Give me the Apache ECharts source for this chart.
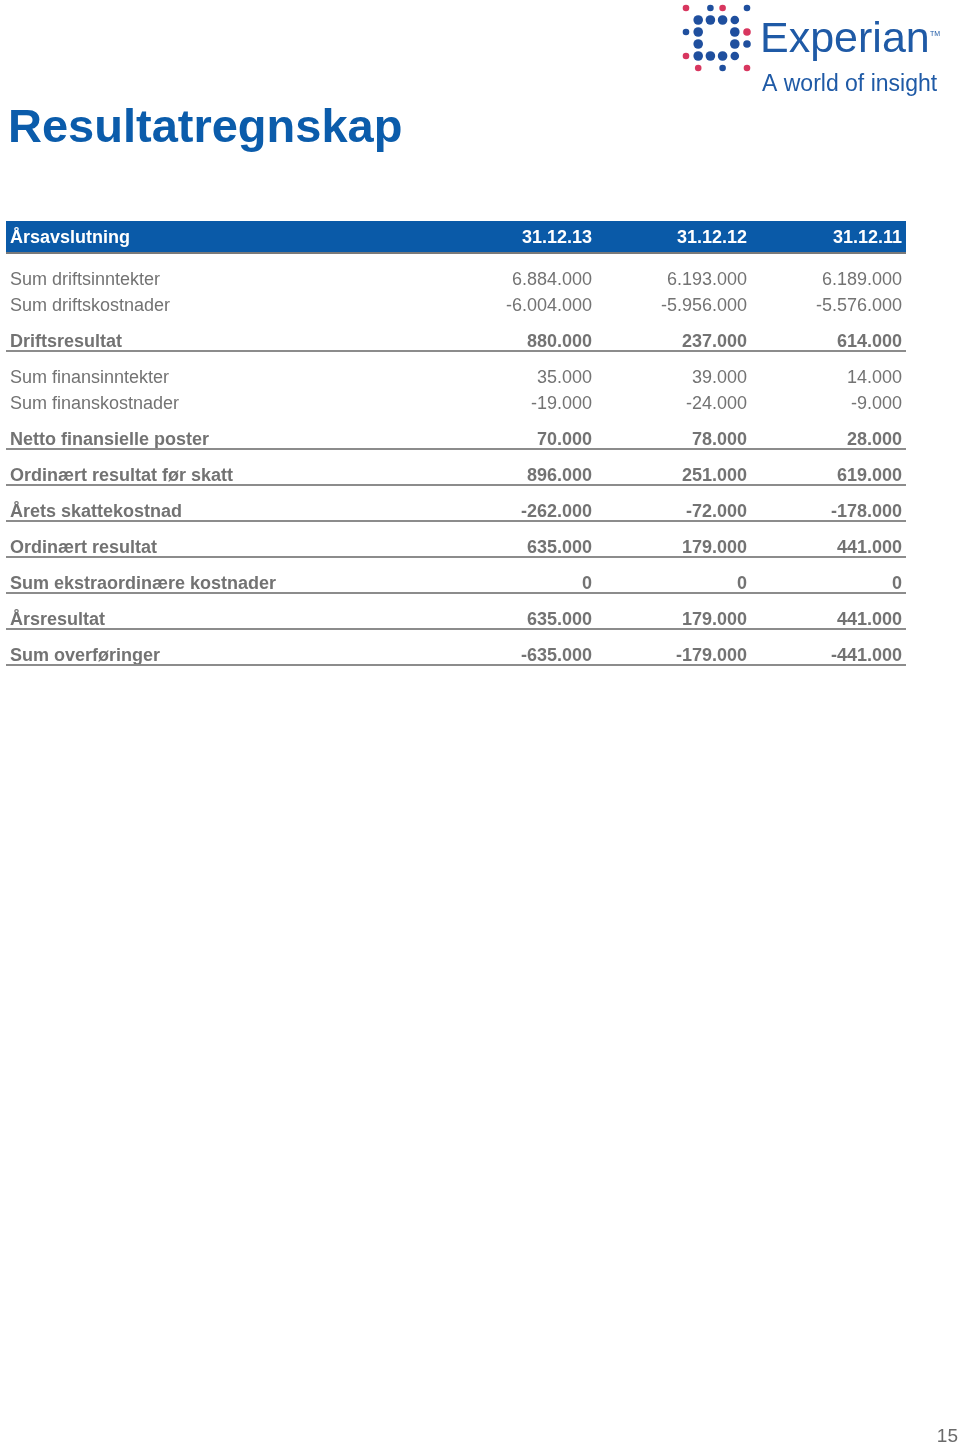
<!DOCTYPE html>
<html>
<head>
<meta charset="utf-8">
<script src="https://cdn.jsdelivr.net/npm/echarts@6/dist/echarts.min.js"></script>
<style>
html,body{margin:0;padding:0;background:#fff;}
#main{width:960px;height:1446px;}
</style>
</head>
<body>
<div id="main"></div>
<script>
// ---- data ----
const pageTitle = 'Resultatregnskap';
const headerLabel = 'Årsavslutning';
const columns = ['31.12.13', '31.12.12', '31.12.11'];
const rowLabels = [
  'Sum driftsinntekter',
  'Sum driftskostnader',
  'Driftsresultat',
  'Sum finansinntekter',
  'Sum finanskostnader',
  'Netto finansielle poster',
  'Ordinært resultat før skatt',
  'Årets skattekostnad',
  'Ordinært resultat',
  'Sum ekstraordinære kostnader',
  'Årsresultat',
  'Sum overføringer'
];
const rowIsTotal = [false, false, true, false, false, true, true, true, true, true, true, true];
const values2013 = [6884000, -6004000, 880000, 35000, -19000, 70000, 896000, -262000, 635000, 0, 635000, -635000];
const values2012 = [6193000, -5956000, 237000, 39000, -24000, 78000, 251000, -72000, 179000, 0, 179000, -179000];
const values2011 = [6189000, -5576000, 614000, 14000, -9000, 28000, 619000, -178000, 441000, 0, 441000, -441000];
const pageNumber = '15';

// ---- layout ----
const valueCols = [values2013, values2012, values2011];
const FONT = '"Liberation Sans", Arial, sans-serif';
const GRAY = '#737373';
const LINE = '#8c8c8c';
const BLUE_BAR = '#0a5aa8';
const tableW = 900, labelColW = 434, colW = 155, pad = 3;
const TEXT_DY = 2;

function fmt(v) {
  const s = String(Math.abs(v)).replace(/\B(?=(\d{3})+(?!\d))/g, '.');
  return (v < 0 ? '-' : '') + s;
}

// vertical slot of each row (in table units = px from table top)
const headerH = 31;
const rowY = [];
rowLabels.forEach((_, i) => {
  if (i === 0) rowY.push(57);
  else rowY.push(rowY[i - 1] + ((!rowIsTotal[i - 1] && !rowIsTotal[i]) ? 26 : 36));
});
const colRight = columns.map((_, j) => labelColW + (j + 1) * colW - pad);

// logo dots: [col,row,colour,size]
const R = '#d8365f', B = '#1f4f9e';
const logoDots = [
  [0,0,R,3.3],[2,0,B,3.3],[3,0,R,3.3],[5,0,B,3.3],
  [1,1,B,4.8],[2,1,B,4.8],[3,1,B,4.8],[4,1,B,4.3],
  [0,2,B,3.3],[1,2,B,4.8],[4,2,B,4.8],[5,2,R,3.8],
  [1,3,B,4.8],[4,3,B,4.8],[5,3,B,3.8],
  [0,4,R,3.3],[1,4,B,4.8],[2,4,B,4.8],[3,4,B,4.8],[4,4,B,4.3],
  [1,5,R,3.3],[3,5,B,3.3],[5,5,R,3.3]
];

const chart = echarts.init(document.getElementById('main'), null, {renderer: 'canvas'});

const graphic = [
  {type: 'text', left: 8, top: 106, style: {text: pageTitle, font: 'bold 47px ' + FONT, fill: '#0b5cab'}},
  {type: 'text', x: 760, y: 40, style: {text: 'Experian', font: '43px ' + FONT, fill: '#1f5aa6', verticalAlign: 'middle'}},
  {type: 'text', x: 930, y: 34, style: {text: 'TM', font: '7px ' + FONT, fill: '#1f5aa6', verticalAlign: 'middle'}},
  {type: 'text', x: 762, y: 85, style: {text: 'A world of insight', font: '23px ' + FONT, fill: '#1f5aa6', verticalAlign: 'middle'}},
  {type: 'text', x: 958, y: 1437, style: {text: pageNumber, font: '19px ' + FONT, fill: '#6a6a6a', align: 'right', verticalAlign: 'middle'}}
].concat(logoDots.map(d => ({
  type: 'circle', shape: {cx: 686 + d[0] * 12.2, cy: 8 + d[1] * 12, r: d[3]}, style: {fill: d[2]}
})));

chart.setOption({
  backgroundColor: '#ffffff',
  animation: false,
  graphic: graphic,
  grid: {left: 6, top: 221, width: tableW, height: 460},
  xAxis: {type: 'value', min: 0, max: tableW, show: false},
  yAxis: {type: 'value', min: 0, max: 460, inverse: true, show: false},
  series: [
    {
      type: 'custom',
      data: [[0]],
      renderItem: function (params, api) {
        const tl = api.coord([0, 0]);
        const br = api.coord([tableW, headerH]);
        const cy = api.coord([0, headerH / 2])[1] + TEXT_DY;
        const children = [
          {type: 'rect', shape: {x: tl[0], y: tl[1], width: br[0] - tl[0], height: br[1] - tl[1]}, style: {fill: BLUE_BAR}},
          {type: 'line', shape: {x1: tl[0], y1: br[1] + 1, x2: br[0], y2: br[1] + 1}, style: {stroke: '#7a7a7a', lineWidth: 2}},
          {type: 'text', style: {text: headerLabel, x: api.coord([4, 0])[0], y: cy, font: 'bold 18px ' + FONT, fill: '#ffffff', align: 'left', verticalAlign: 'middle'}}
        ];
        columns.forEach((c, j) => {
          children.push({type: 'text', style: {text: c, x: api.coord([colRight[j], 0])[0], y: cy, font: 'bold 18px ' + FONT, fill: '#ffffff', align: 'right', verticalAlign: 'middle'}});
        });
        return {type: 'group', children: children};
      }
    },
    {
      type: 'custom',
      data: rowLabels.map((_, i) => [i]),
      renderItem: function (params, api) {
        const i = api.value(0);
        const bold = rowIsTotal[i];
        const font = (bold ? 'bold ' : '') + '18px ' + FONT;
        const y = api.coord([0, rowY[i]])[1] + TEXT_DY;
        const children = [
          {type: 'text', style: {text: rowLabels[i], x: api.coord([4, 0])[0], y: y, font: font, fill: GRAY, align: 'left', verticalAlign: 'middle'}}
        ];
        valueCols.forEach((vals, j) => {
          children.push({type: 'text', style: {text: fmt(vals[i]), x: api.coord([colRight[j], 0])[0], y: y, font: font, fill: GRAY, align: 'right', verticalAlign: 'middle'}});
        });
        if (bold) {
          const ly = api.coord([0, rowY[i] + 11])[1];
          children.push({type: 'line', shape: {x1: api.coord([0, 0])[0], y1: ly, x2: api.coord([tableW, 0])[0], y2: ly}, style: {stroke: LINE, lineWidth: 2}});
        }
        return {type: 'group', children: children};
      }
    }
  ]
});
</script>
</body>
</html>
